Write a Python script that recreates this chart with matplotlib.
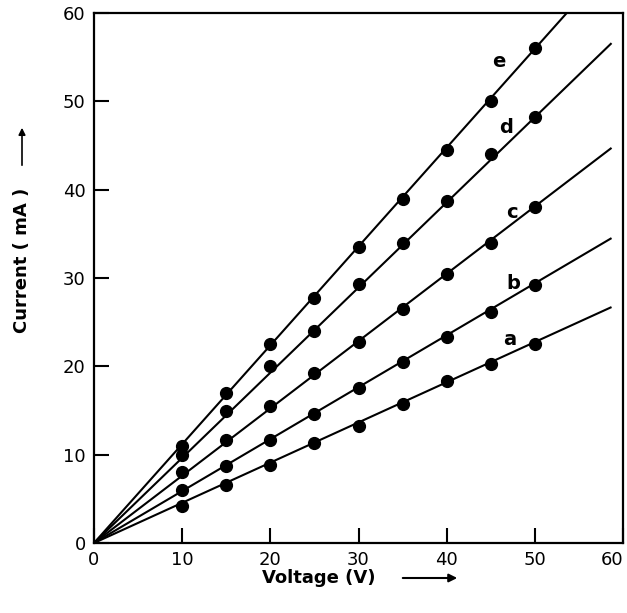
import numpy as np
import matplotlib
matplotlib.use('Agg')
import matplotlib.pyplot as plt

# 측정 전압 (V)
voltage = [10, 15, 20, 25, 30, 35, 40, 45, 50]

# 곡선별 전류 (mA)
current_a = [4.2, 6.6, 8.8, 11.3, 13.3, 15.7, 18.3, 20.3, 22.5]
current_b = [6.0, 8.7, 11.7, 14.6, 17.5, 20.5, 23.3, 26.2, 29.2]
current_c = [8.0, 11.7, 15.5, 19.3, 22.8, 26.5, 30.5, 34.0, 38.0]
current_d = [10.0, 15.0, 20.0, 24.0, 29.3, 34.0, 38.7, 44.0, 48.2]
current_e = [11.0, 17.0, 22.5, 27.7, 33.5, 39.0, 44.5, 50.0, 56.0]

# 직선 기울기 (mA/V), 그림에서 읽은 값
slopes = [0.455, 0.588, 0.762, 0.964, 1.119]
labels = ['a', 'b', 'c', 'd', 'e']
label_pos = [(47.2, 23.0), (47.6, 29.4), (47.4, 37.4), (46.7, 47.0), (45.9, 54.5)]

x_ticks = [0, 10, 20, 30, 40, 50, 60]
y_ticks = [0, 10, 20, 30, 40, 50, 60]

fig = plt.figure(figsize=(6.27, 6.13), dpi=100)
ax = fig.add_axes([94/627, 1 - 543/613, 529/627, 530/613])

series = [current_a, current_b, current_c, current_d, current_e]
x_line = np.array([0, 58.7])
for cur, k, lab, pos in zip(series, slopes, labels, label_pos):
    ax.plot(x_line, k * x_line, color='black', lw=1.5, solid_capstyle='butt')
    ax.plot(voltage, cur, 'o', color='black', ms=8.5, clip_on=False)
    ax.text(pos[0], pos[1], lab, fontsize=14, fontweight='bold',
            ha='center', va='center', family='DejaVu Sans')

ax.set_xlim(0, 60)
ax.set_ylim(0, 60)
ax.set_xticks(x_ticks)
ax.set_yticks(y_ticks)
ax.tick_params(direction='in', length=11, width=1.5, labelsize=13, pad=6)
ax.get_xticklabels()[-1].set_horizontalalignment('right')
for s in ax.spines.values():
    s.set_linewidth(1.6)

# 축 제목과 화살표
fig.text(262/627, 1 - 578/613, 'Voltage (V)', fontsize=13, fontweight='bold',
         ha='left', va='center')
ax.annotate('', xy=(460/627, 1 - 578/613), xytext=(400/627, 1 - 578/613),
            xycoords='figure fraction',
            arrowprops=dict(arrowstyle='-|>', color='black', lw=1.5, mutation_scale=12))
fig.text(22/627, 1 - 260/613, 'Current ( mA )', fontsize=13, fontweight='bold',
         ha='center', va='center', rotation=90)
ax.annotate('', xy=(22/627, 1 - 125/613), xytext=(22/627, 1 - 168/613),
            xycoords='figure fraction',
            arrowprops=dict(arrowstyle='-|>', color='black', lw=1.2, mutation_scale=10))

fig.savefig('out.png', dpi=100)
